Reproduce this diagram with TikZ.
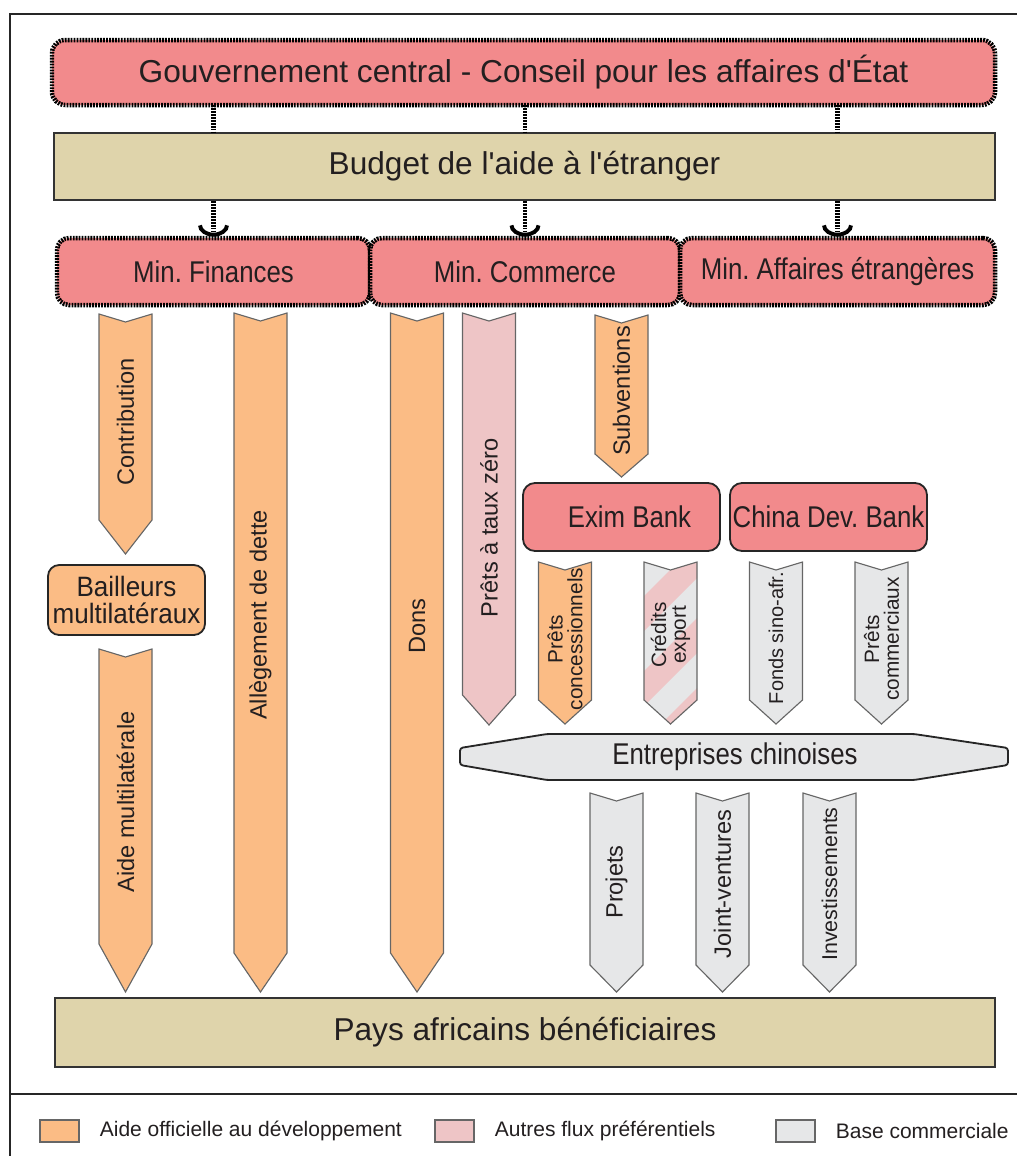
\documentclass[tikz,border=0pt]{standalone}
\usepackage{fontspec}
\setmainfont{Liberation Sans}
\newfontfamily\narrowfont{Liberation Sans}[FakeStretch=0.86]
\newfontfamily\semifont{Liberation Sans}[FakeStretch=0.93]
\usepackage{xcolor}
\usepackage{tikz}
\usetikzlibrary{arrows.meta,positioning}
\definecolor{rouge}{HTML}{F28A8C}
\definecolor{sable}{HTML}{DFD4AB}
\definecolor{apd}{HTML}{FBBC85}
\definecolor{rose}{HTML}{EEC5C6}
\definecolor{gris}{HTML}{E6E7E8}
\definecolor{encre}{HTML}{231F20}

\newcommand{\pxu}{0.25mm}
\newcommand{\apos}{\textquotesingle}
% chevron: name, x, top, tip, head, path opts, text y, text opts, text
\newcommand{\flowarrow}[9]{%
  \draw[flow, #6] (#2-26.5,#3) -- (#2,#3+8) -- (#2+26.5,#3) -- (#2+26.5,#4-#5)
    -- (#2,#4) -- (#2-26.5,#4-#5) -- cycle;
  \node[flowtext, #8] (#1) at (#2,#7) {#9};
}

\begin{document}
\begin{tikzpicture}[
    x=0.25mm, y=-0.25mm,
    govbox/.style={rectangle, rounded corners=3.3mm, draw=black, line width=3.2pt, dash pattern=on 1.3pt off 0.8pt, fill=rouge, inner sep=0pt, outer sep=0pt, text=encre, font=\fontsize{7.92mm}{9mm}\selectfont},
    minbox/.style={govbox, rounded corners=3mm, font=\fontsize{7.5mm}{8.5mm}\selectfont\narrowfont},
    budbox/.style={rectangle, draw=black!80, line width=1.5pt, fill=sable, inner sep=0pt, text=encre, font=\fontsize{7.9mm}{9mm}\selectfont},
    bank/.style={rectangle, rounded corners=3mm, draw=black!85, line width=1.3pt, fill=rouge, inner sep=0pt, text=encre, font=\fontsize{7.5mm}{8.5mm}\selectfont\narrowfont},
    donor/.style={bank, fill=apd, rounded corners=2.8mm, align=center, font=\fontsize{7mm}{6.8mm}\selectfont\semifont},
    flow/.style={draw=black!60, line width=0.8pt, line join=miter},
    flowtext/.style={rotate=90, inner sep=0pt, align=center, text=encre, font=\fontsize{5.9mm}{6.5mm}\selectfont},
    twoline/.style={font=\fontsize{5.2mm}{4.9mm}\selectfont},
    entshape/.style={draw=black!85, line width=1.3pt, fill=gris, rounded corners=2pt},
    entlabel/.style={inner sep=0pt, text=encre, font=\fontsize{7.5mm}{8.5mm}\selectfont\narrowfont},
    link/.style={draw=black, line width=3.2pt, dash pattern=on 1.3pt off 0.8pt},
    linktip/.style={-{Arc Barb[width=22pt, length=8pt, line width=2.8pt]}, shorten >=1pt},
    legkey/.style={rectangle, draw=black!60, line width=0.8pt, minimum width=9.75mm, minimum height=5.5mm, inner sep=0pt},
    legtext/.style={inner sep=0pt, text=encre, font=\fontsize{5.25mm}{6mm}\selectfont},
    cadre/.style={draw=black!85, line width=1.4pt}
]
\useasboundingbox (0,0) rectangle (1017,1156);

% Cadre
\draw[cadre] (10,1156) -- (10,14) -- (1017,14);
\draw[cadre] (10,1094) -- (1017,1094);

% Gouvernement et budget
\node[govbox, minimum width=943*\pxu, minimum height=65*\pxu] (gouv) at (523.5,72.5) {Gouvernement central - Conseil pour les affaires d\apos État};
\node[budbox, minimum width=941*\pxu, minimum height=67*\pxu] (budget) at (524.5,166.5) {Budget de l\apos aide à l\apos étranger};

% Ministeres
\node[minbox, minimum width=313*\pxu, minimum height=67*\pxu] (fin) at (213.5,271.5) {Min.\ Finances};
\node[minbox, minimum width=310*\pxu, minimum height=67*\pxu, right=0pt of fin] (com) {Min.\ Commerce};
\node[minbox, minimum width=315*\pxu, minimum height=67*\pxu, right=0pt of com] (aff) {Min.\ Affaires étrangères};

% Liaisons
\draw[link] (gouv.south -| fin) -- (budget.north -| fin);
\draw[link] (gouv.south -| com) -- (budget.north -| com);
\draw[link] (gouv.south -| aff) -- (budget.north -| aff);
\draw[link, linktip] (budget.south -| fin) -- (fin.north);
\draw[link, linktip] (budget.south -| com) -- (com.north);
\draw[link, linktip] (budget.south -| aff) -- (aff.north);

% Banques et bailleurs
\node[donor, minimum width=157*\pxu, minimum height=70*\pxu] (bail) at (126.5,600) {Bailleurs\\multilatéraux};
\node[bank, minimum width=197*\pxu, minimum height=68*\pxu] (exim) at (621.5,517) {\hspace{4mm}Exim Bank};
\node[bank, minimum width=197*\pxu, minimum height=68*\pxu] (cdb) at (828.5,517) {China Dev.\ Bank};

% Flux
\flowarrow{contrib}{125.5}{314}{554}{34}{fill=apd}{422}{}{Contribution}
\flowarrow{aidemul}{125.5}{649}{992}{48}{fill=apd}{802}{}{Aide multilatérale}
\flowarrow{dette}{260.5}{313}{992}{39}{fill=apd}{615}{}{Allègement de dette}
\flowarrow{dons}{417}{313}{992}{39}{fill=apd}{626}{}{Dons}
\flowarrow{taux}{489}{313}{725}{30}{fill=rose}{528}{}{Prêts à taux zéro}
\flowarrow{subv}{621.5}{315}{477}{23}{fill=apd}{391}{}{Subventions}
\flowarrow{concess}{565}{562}{724}{24}{fill=apd}{639}{twoline}{Prêts\\concessionnels}
\flowarrow{credit}{670.5}{562}{724}{24}{fill=gris, path picture={
    \fill[rose] (640,600) -- (700,540) -- (700,575) -- (640,635) -- cycle;
    \fill[rose] (640,675) -- (700,615) -- (700,650) -- (640,710) -- cycle;
    \fill[rose] (640,745) -- (700,685) -- (700,720) -- (640,780) -- cycle;}}{635}{twoline}{Crédits\\export}
\flowarrow{fonds}{776}{562}{724}{24}{fill=gris}{638}{twoline, font=\fontsize{5mm}{5mm}\selectfont}{Fonds sino-afr.}
\flowarrow{commerc}{881.5}{562}{724}{24}{fill=gris}{639}{twoline}{Prêts\\commerciaux}

% Entreprises
\draw[entshape] (460,748) -- (547,734) -- (914,734) -- (1008,748) -- (1008,765) -- (914,780) -- (547,780) -- (460,765) -- cycle;
\node[entlabel] (ent) at (735,757) {Entreprises chinoises};

\flowarrow{proj}{616.5}{793}{992}{27}{fill=gris}{882}{}{Projets}
\flowarrow{joint}{722.5}{793}{992}{27}{fill=gris}{884}{}{Joint-ventures}
\flowarrow{invest}{829.5}{793}{992}{27}{fill=gris}{884}{font=\fontsize{5.35mm}{6mm}\selectfont}{Investissements}

% Pays
\node[budbox, minimum width=940*\pxu, minimum height=69*\pxu] (pays) at (525,1032.5) {Pays africains bénéficiaires};

% Legende
\node[legkey, fill=apd] (k1) at (59.5,1131) {};
\node[legtext, right=5mm of k1] (t1) {Aide officielle au développement};
\node[legkey, fill=rose] (k2) at (454.5,1131) {};
\node[legtext, right=5mm of k2] (t2) {Autres flux préférentiels};
\node[legkey, fill=gris] (k3) at (795.5,1131) {};
\node[legtext, right=5mm of k3] (t3) {Base commerciale};
\end{tikzpicture}
\end{document}
